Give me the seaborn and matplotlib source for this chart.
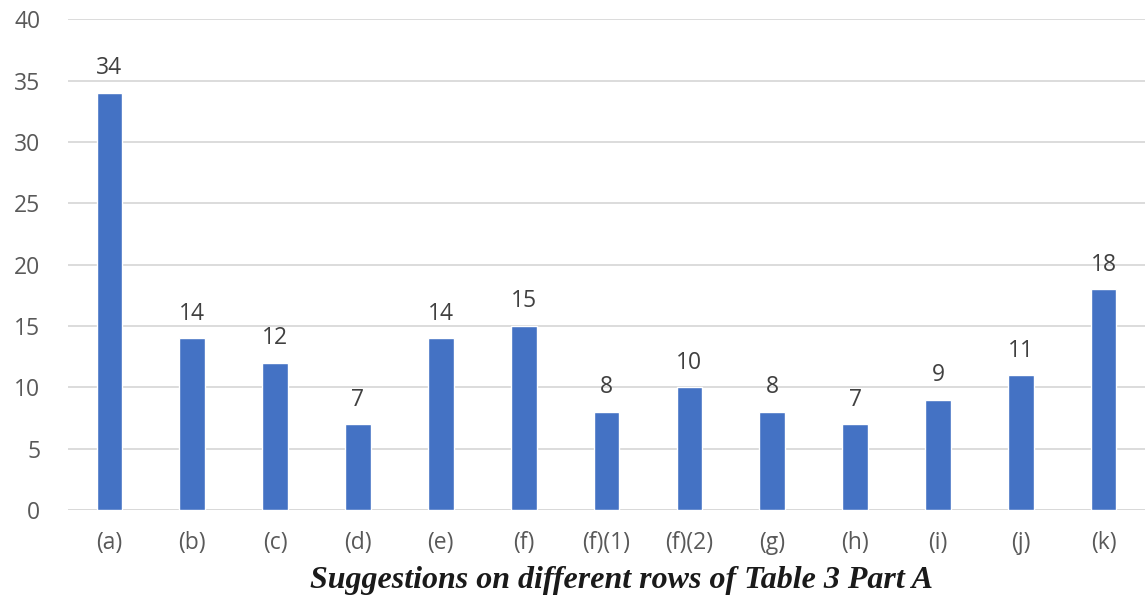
import matplotlib
matplotlib.use("Agg")
import matplotlib.pyplot as plt
import seaborn as sns
import pandas as pd

categories = ["(a)", "(b)", "(c)", "(d)", "(e)", "(f)", "(f)(1)", "(f)(2)",
              "(g)", "(h)", "(i)", "(j)", "(k)"]
counts = [34, 14, 12, 7, 14, 15, 8, 10, 8, 7, 9, 11, 18]
y_ticks = [0, 5, 10, 15, 20, 25, 30, 35, 40]
x_title = "Suggestions on different rows of Table 3 Part A"

sns.set_theme(style="white")
plt.rcParams["font.family"] = ["Open Sans", "DejaVu Sans"]

text_gray = "#595959"
grid_gray = "#D9D9D9"
bar_blue = "#4472C4"

df = pd.DataFrame({"row": categories, "count": counts})

fig = plt.figure(figsize=(11.45, 5.99), dpi=100)
ax = fig.add_axes([0.0594, 0.1486, 0.9406, 0.8194])

sns.barplot(data=df, x="row", y="count", color=bar_blue, width=0.31,
            saturation=1, ax=ax, zorder=3)

ax.set_ylim(0, 40)
ax.set_xlim(-0.5, len(categories) - 0.5)
ax.set_yticks(y_ticks)
ax.yaxis.grid(True, color=grid_gray, linewidth=1.3, zorder=0)
ax.set_axisbelow(True)
for side in ["top", "right", "left", "bottom"]:
    ax.spines[side].set_visible(False)
ax.axhline(0, color=grid_gray, linewidth=1.3, zorder=1)

ax.tick_params(axis="both", length=0, labelsize=16.5, colors=text_gray)
ax.tick_params(axis="y", pad=20)
ax.tick_params(axis="x", pad=15)

for container in ax.containers:
    ax.bar_label(container, labels=[str(v) for v in counts], padding=9,
                 fontsize=16.5, color="#404040")

ax.set_ylabel("")
ax.set_xlabel(x_title, fontsize=23, fontweight="bold", fontstyle="italic",
              family=["Liberation Serif", "DejaVu Serif"], color="#1a1a1a",
              labelpad=4)
ax.xaxis.set_label_coords(0.514, -0.115)

fig.savefig("out.png", dpi=100)
